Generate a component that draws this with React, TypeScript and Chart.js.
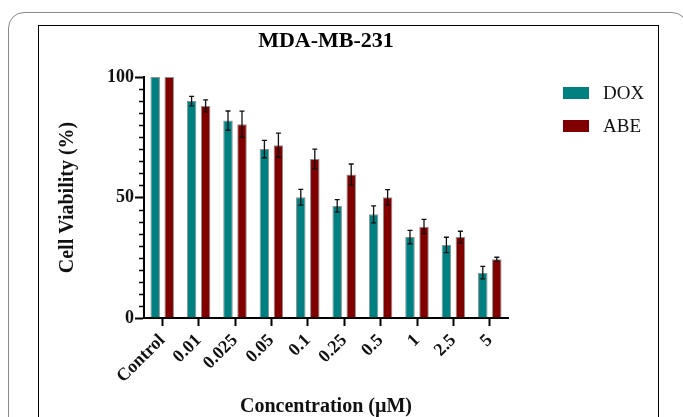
import React, { useEffect, useRef } from 'react';
import { Chart, registerables } from 'chart.js';

Chart.register(...registerables);

const categories = ['Control', '0.01', '0.025', '0.05', '0.1', '0.25', '0.5', '1', '2.5', '5'];
const doxValues = [100, 90.0, 81.9, 70.1, 50.1, 46.5, 43.0, 33.6, 30.3, 18.8];
const doxErrors = [0, 2.0, 4.0, 3.6, 3.3, 2.6, 3.5, 2.8, 3.2, 2.6];
const abeValues = [100, 88.0, 80.4, 71.7, 66.0, 59.5, 50.1, 37.9, 33.6, 24.4];
const abeErrors = [0, 2.5, 5.4, 5.0, 4.1, 4.4, 3.2, 3.0, 2.4, 0.8];
const seriesNames = ['DOX', 'ABE'];
const seriesColors = ['#008080', '#800000'];
const yMajorTicks = [0, 50, 100];
const yMinorStep = 5;
const chartTitle = 'MDA-MB-231';
const xTitle = 'Concentration (\u00b5M)';
const yTitle = 'Cell Viability (%)';

const FONT = '"Liberation Serif", "Times New Roman", Times, serif';

const decorPlugin = {
  id: 'decor',
  afterDatasetsDraw(chart: any) {
    const ctx = chart.ctx;
    const ys = chart.scales.y;
    const area = chart.chartArea;
    ctx.save();
    // minor y ticks
    ctx.strokeStyle = '#000';
    ctx.lineWidth = 1.5;
    for (let v = ys.min; v <= ys.max; v += yMinorStep) {
      if (yMajorTicks.includes(v)) continue;
      const py = Math.round(ys.getPixelForValue(v)) + 0.5;
      ctx.beginPath();
      ctx.moveTo(area.left - 5, py);
      ctx.lineTo(area.left, py);
      ctx.stroke();
    }
    // error bars
    ctx.lineWidth = 1.3;
    ctx.strokeStyle = '#111';
    chart.data.datasets.forEach((ds: any, di: number) => {
      const meta = chart.getDatasetMeta(di);
      meta.data.forEach((bar: any, i: number) => {
        const e = ds.errors[i];
        if (!e) return;
        const v = ds.data[i];
        const x = bar.x;
        const top = ys.getPixelForValue(v + e);
        const bot = ys.getPixelForValue(v - e);
        ctx.beginPath();
        ctx.moveTo(x, top);
        ctx.lineTo(x, bot);
        ctx.moveTo(x - 2.5, top);
        ctx.lineTo(x + 2.5, top);
        ctx.moveTo(x - 2.5, bot);
        ctx.lineTo(x + 2.5, bot);
        ctx.stroke();
      });
    });
    // title
    ctx.fillStyle = '#000';
    ctx.font = `bold 22px ${FONT}`;
    ctx.textAlign = 'center';
    ctx.textBaseline = 'middle';
    ctx.fillText(chartTitle, (area.left + area.right) / 2, 41);
    // legend
    ctx.font = `19px ${FONT}`;
    ctx.textAlign = 'left';
    chart.data.datasets.forEach((ds: any, di: number) => {
      const cy = 93 + di * 33;
      const bx = area.right + 55;
      ctx.fillStyle = ds.backgroundColor;
      ctx.fillRect(bx, cy - 6, 26, 12);
      ctx.fillStyle = '#111';
      ctx.fillText(ds.label, bx + 40, cy + 1);
    });
    ctx.restore();
  },
};

export default function App() {
  const ref = useRef<HTMLCanvasElement | null>(null);
  useEffect(() => {
    if (!ref.current) return;
    const chart = new Chart(ref.current, {
      type: 'bar',
      data: {
        labels: categories,
        datasets: [
          {
            label: seriesNames[0],
            data: doxValues,
            errors: doxErrors,
            backgroundColor: seriesColors[0],
            borderColor: 'rgba(70,70,70,0.6)',
            borderWidth: 1,
            categoryPercentage: 0.77,
            barPercentage: 0.68,
          } as any,
          {
            label: seriesNames[1],
            data: abeValues,
            errors: abeErrors,
            backgroundColor: seriesColors[1],
            borderColor: 'rgba(70,70,70,0.6)',
            borderWidth: 1,
            categoryPercentage: 0.77,
            barPercentage: 0.68,
          } as any,
        ],
      },
      options: {
        responsive: false,
        animation: false,
        devicePixelRatio: 1,
        layout: { padding: { left: 58, top: 77, right: 175, bottom: 0 } },
        plugins: {
          legend: { display: false },
          title: { display: false },
          tooltip: { enabled: false },
        },
        scales: {
          x: {
            afterFit: (s: any) => { s.height = 99; },
            grid: {
              offset: false,
              drawOnChartArea: false,
              drawTicks: true,
              tickLength: 8,
              tickWidth: 2,
              tickColor: '#000',
            },
            border: { display: true, color: '#000', width: 2 },
            ticks: {
              autoSkip: false,
              minRotation: 45,
              maxRotation: 45,
              padding: 4,
              color: '#111',
              font: { family: FONT, size: 18, weight: 'bold' },
            },
            title: {
              display: true,
              text: xTitle,
              color: '#111',
              font: { family: FONT, size: 20, weight: 'bold', lineHeight: 1 },
              padding: 0,
            },
          },
          y: {
            min: 0,
            max: 100,
            afterFit: (s: any) => { s.width = 86; },
            afterBuildTicks: (s: any) => { s.ticks = yMajorTicks.map((v) => ({ value: v })); },
            grid: {
              drawOnChartArea: false,
              drawTicks: true,
              tickLength: 9,
              tickWidth: 2,
              tickColor: '#000',
            },
            border: { display: true, color: '#000', width: 2 },
            ticks: {
              padding: 1,
              color: '#111',
              font: { family: FONT, size: 18, weight: 'bold' },
            },
            title: {
              display: true,
              text: yTitle,
              color: '#111',
              font: { family: FONT, size: 20, weight: 'bold', lineHeight: 1 },
              padding: 0,
            },
          },
        },
      },
      plugins: [decorPlugin],
    } as any);
    return () => chart.destroy();
  }, []);

  return (
    <div style={{ position: 'fixed', left: 0, top: 0, width: 683, height: 417, overflow: 'hidden', background: '#fff' }}>
      <div style={{ position: 'absolute', left: 8, top: 12, width: 680, height: 500, border: '1.5px solid #8a8a8a', borderRadius: 16, boxSizing: 'border-box' }} />
      <div style={{ position: 'absolute', left: 38, top: 25, width: 621, height: 500, border: '1px solid #000', boxSizing: 'border-box' }} />
      <canvas ref={ref} width={683} height={417} style={{ position: 'absolute', left: 0, top: 0, width: 683, height: 417 }} />
    </div>
  );
}
